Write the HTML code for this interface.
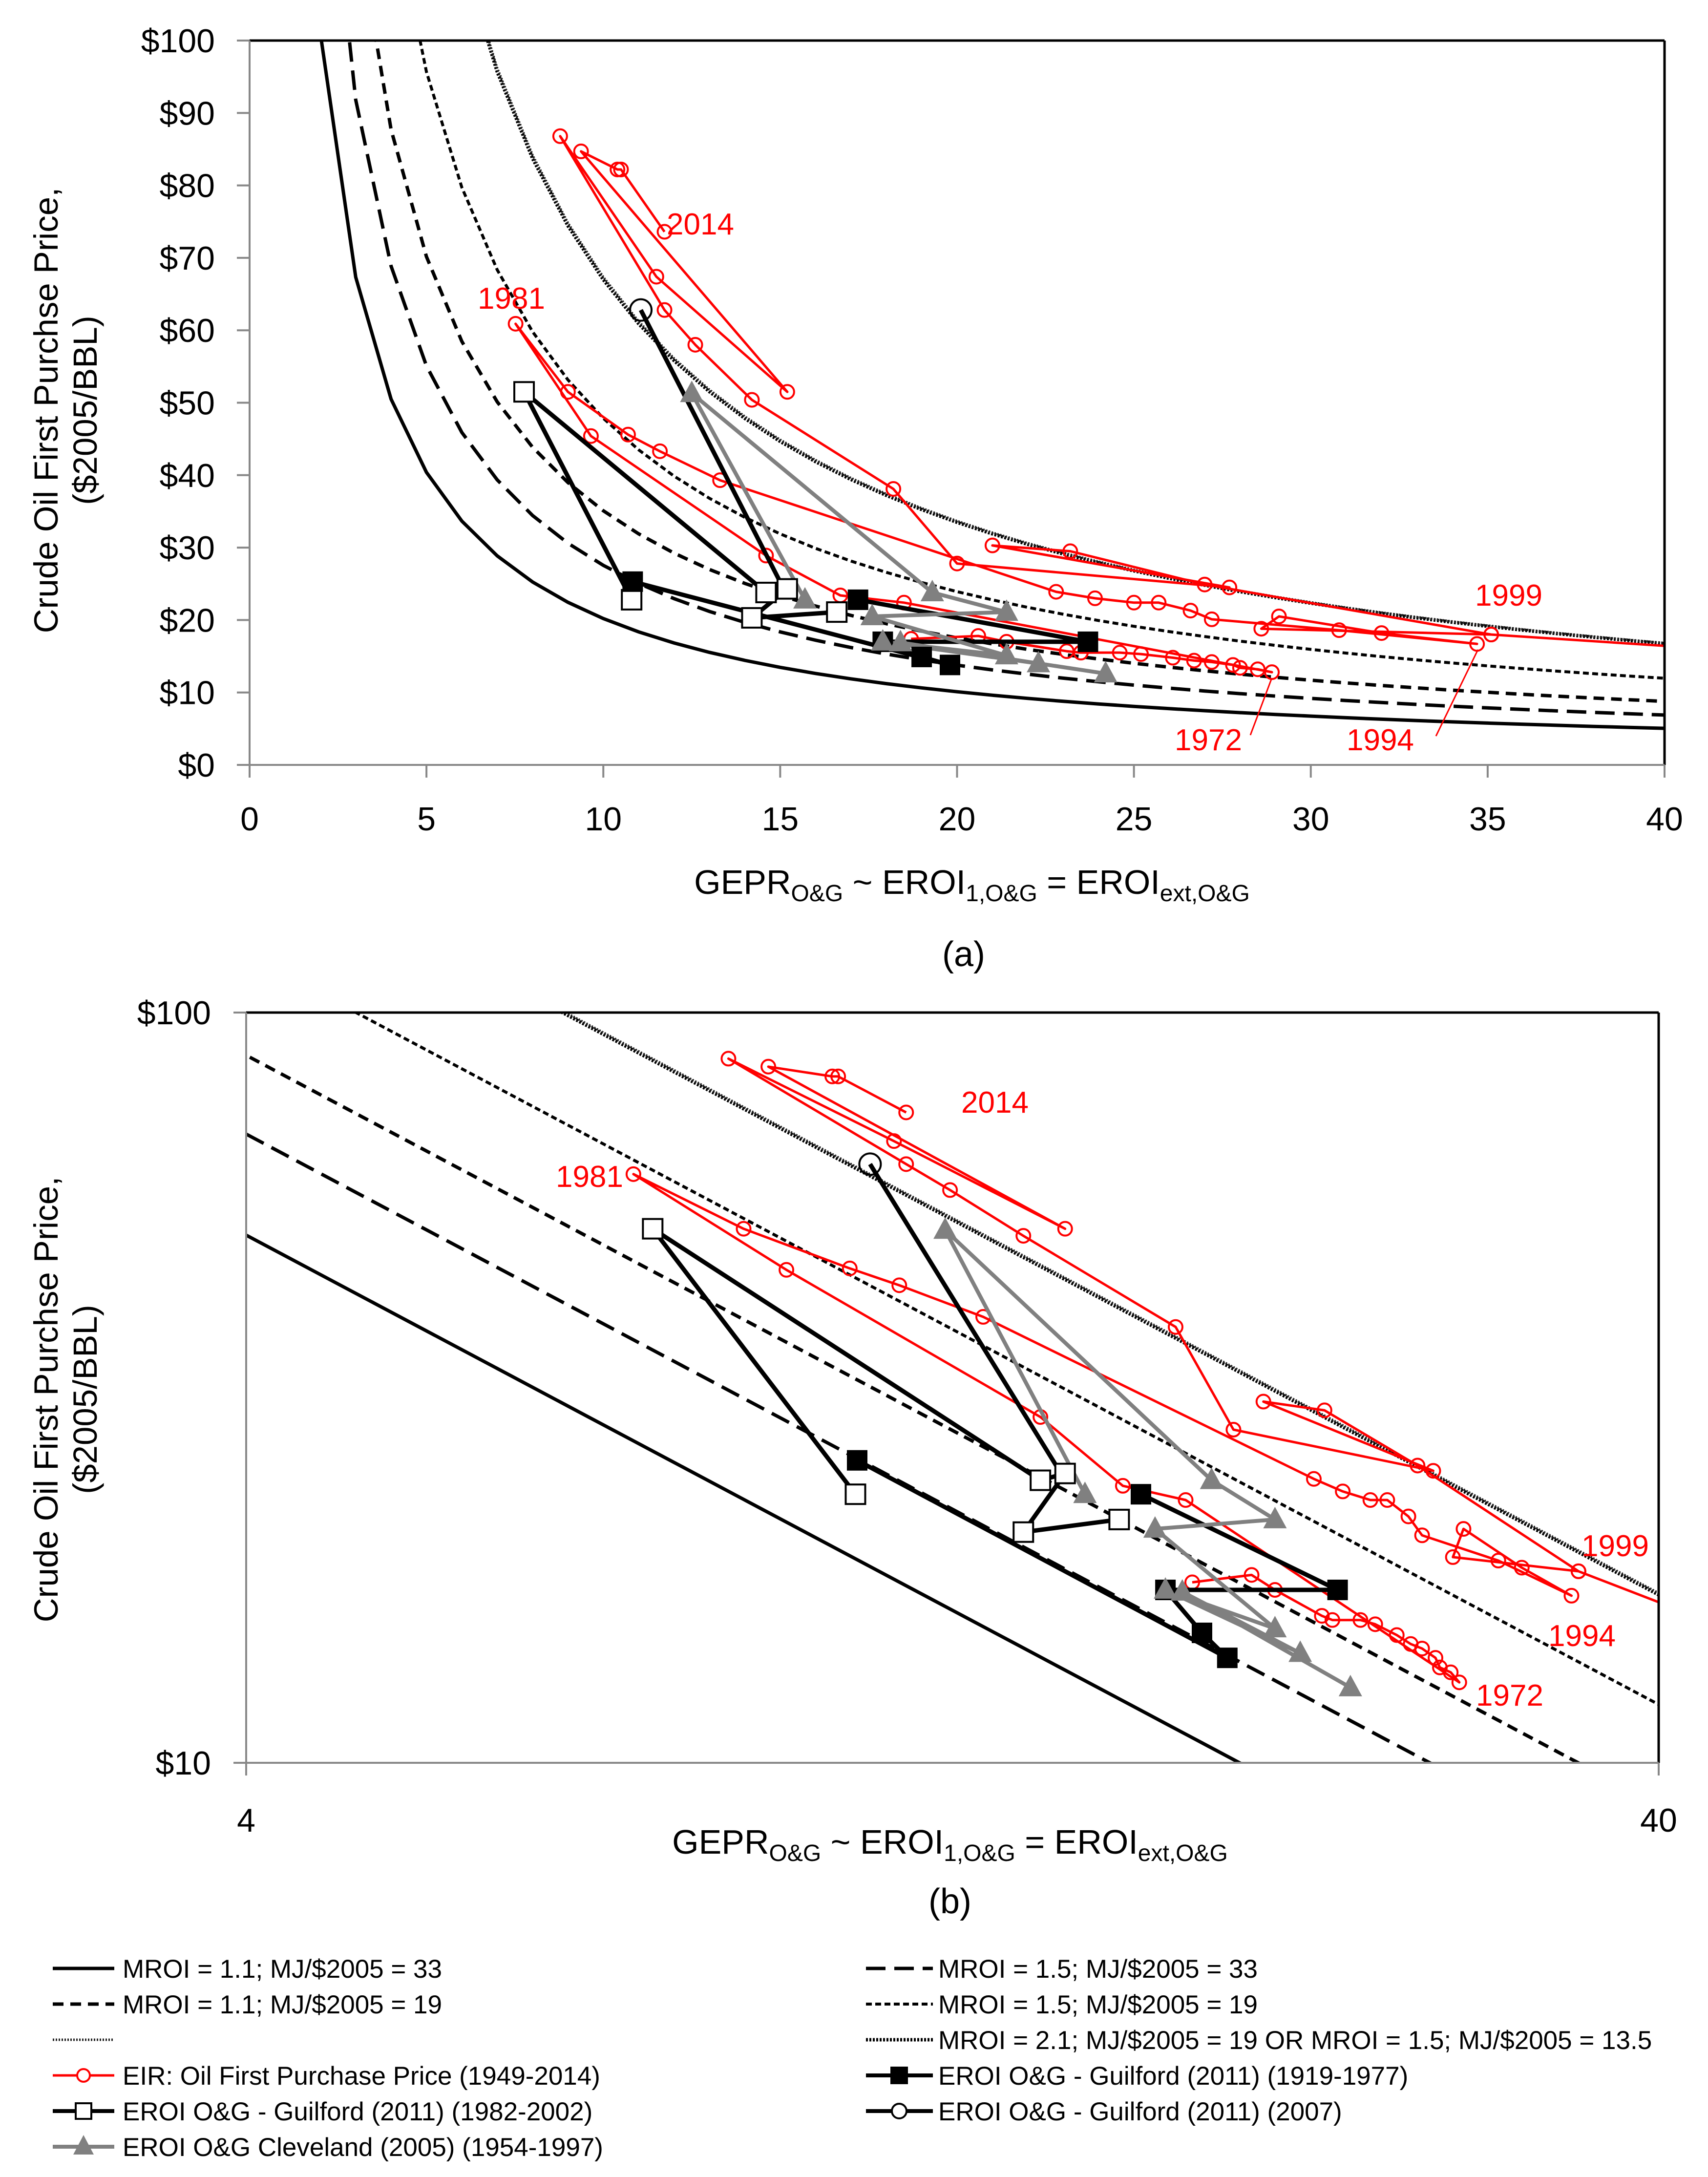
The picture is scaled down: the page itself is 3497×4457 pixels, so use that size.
<!DOCTYPE html>
<html><head><meta charset="utf-8"><style>
html,body{margin:0;padding:0;background:#fff}
svg{display:block;font-family:"Liberation Sans",sans-serif}
</style></head><body>
<svg id="chart" width="3497" height="4457" viewBox="0 0 3497 4457" xmlns="http://www.w3.org/2000/svg">
<defs>
<clipPath id="clipA"><rect x="511" y="83" width="2897" height="1483"/></clipPath>
<clipPath id="clipB"><rect x="504" y="2073" width="2892" height="1536"/></clipPath>
</defs>
<g id="gA"></g>
<g id="gB"></g>
<g id="legend"></g>
</svg>
<script>
// ---- data ----
const curveMROI = [1.1, 1.1, 1.5, 1.5, 2.1, 1.5];
const curveMJ = [33, 19, 33, 19, 19, 13.5];
const curveLabels = ["MROI = 1.1; MJ/$2005 = 33","MROI = 1.1; MJ/$2005 = 19","MROI = 1.5; MJ/$2005 = 33","MROI = 1.5; MJ/$2005 = 19","MROI = 2.1; MJ/$2005 = 19 OR MROI = 1.5; MJ/$2005 = 13.5",""];
const eiaX = [18.7,20.6,21.4,23.1,23.5,24.6,25.2,26.1,26.7,27.2,27.8,28.0,28.5,28.9,18.5,16.7,14.6,9.65,7.52,9.0,10.7,11.6,13.3,22.8,23.9,25.0,25.7,26.6,27.2,30.8,34.7,32.0,29.1,28.6,35.1,42,35.1,27.0,23.2,21.0,27.7,20.0,18.2,14.2,12.6,11.73,8.78,11.5,15.2,9.37,10.4,10.5,11.73];
const eiaY = [17.4,17.8,17.0,15.7,15.5,15.5,15.3,14.8,14.4,14.2,13.8,13.4,13.2,12.8,22.4,23.4,28.9,45.4,60.9,51.5,45.6,43.3,39.3,23.9,23.0,22.4,22.4,21.3,20.1,18.6,16.7,18.2,20.5,18.8,18.0,15.8,18.0,24.9,29.5,30.3,24.5,27.8,38.1,50.4,58.0,62.8,86.8,67.4,51.5,84.7,82.2,82.2,73.6];
const eiaMarker = eiaX.map((v,i)=>i!==35);
const gFilledX = [10.83,19.8,19.0,17.9,23.7,17.2];
const gFilledY = [25.3,13.8,14.9,17.0,17.0,22.8];
const gOpenX = [10.8,7.76,14.6,15.2,14.2,16.6];
const gOpenY = [22.8,51.5,23.8,24.3,20.3,21.1];
const g2007X = [11.06,15.1];
const g2007Y = [62.8,24.3];
const clevX = [24.2,18.4,22.3,17.9,21.4,17.6,21.4,19.3,12.5,15.7];
const clevY = [12.6,16.9,14.0,17.0,15.1,20.5,21.1,23.8,51.3,22.8];
const ticksA_Y = [0,10,20,30,40,50,60,70,80,90,100];
const ticksA_X = [0,5,10,15,20,25,30,35,40];
const ticksB_Y = [10,100];
const ticksB_X = [4,40];

const NS="http://www.w3.org/2000/svg";
function mk(parent,tag,attrs){const e=document.createElementNS(NS,tag);for(const k in attrs)e.setAttribute(k,attrs[k]);parent.appendChild(e);return e;}

const styles=[
 {w:7,dash:"",c:"#000"},
 {w:7,dash:"22 14",c:"#000"},
 {w:7,dash:"40 18",c:"#000"},
 {w:6,dash:"12 7",c:"#000"},
 {w:7,dash:"4 3",c:"#000"},
 {w:5,dash:"3 3",c:"#222"}
];

function drawPanel(g,xs,ys,clip,xmin,xmax,ymin,ymax,log){
 const [L,R]=xs,[B,T]=ys;
 const sx=log?v=>L+Math.log10(v/xmin)/Math.log10(xmax/xmin)*(R-L):v=>L+(v-xmin)/(xmax-xmin)*(R-L);
 const sy=log?v=>B-Math.log10(v/ymin)/Math.log10(ymax/ymin)*(B-T):v=>B-(v-ymin)/(ymax-ymin)*(B-T);
 const plot=mk(g,"g",{"clip-path":"url(#"+clip+")"});
 
 
 curveMROI.forEach((m,i)=>{
  const k=6060*m/curveMJ[i];
  let pts=[];
  for(let x=1;x<=42;x++){pts.push(sx(x).toFixed(1)+","+sy(k/x).toFixed(1));}
  const p=mk(plot,"polyline",{points:pts.join(" "),fill:"none",stroke:styles[i].c,"stroke-width":styles[i].w,"stroke-dasharray":styles[i].dash});
  
  
 });
 function series(X,Y,color,w,name){
  const pts=X.map((x,i)=>sx(x).toFixed(1)+","+sy(Y[i]).toFixed(1)).join(" ");
  const p=mk(plot,"polyline",{points:pts,fill:"none",stroke:color,"stroke-width":w,"stroke-linejoin":"round"});
  
  
 }
 series(eiaX,eiaY,"#ff0000",5,"eia-price-line");
 eiaX.forEach((x,i)=>{ if(!eiaMarker[i])return;
  const c=mk(plot,"circle",{cx:sx(x),cy:sy(eiaY[i]),r:14,fill:"none",stroke:"#ff0000","stroke-width":4});
  
  
 });
 series(gOpenX,gOpenY,"#000",9,"guilford-1982-2002-line");
 series(g2007X,g2007Y,"#000",9,"guilford-2007-line");
 series(gFilledX,gFilledY,"#000",9,"guilford-1919-1977-line");
 series(clevX,clevY,"#808080",8,"cleveland-line");
 gOpenX.forEach((x,i)=>{
  const r=mk(plot,"rect",{x:sx(x)-20,y:sy(gOpenY[i])-20,width:40,height:40,fill:"#fff",stroke:"#000","stroke-width":4});
  
  
 });
 gFilledX.forEach((x,i)=>{
  const r=mk(plot,"rect",{x:sx(x)-21,y:sy(gFilledY[i])-21,width:42,height:42,fill:"#000"});
  
  
 });
 const c7=mk(plot,"circle",{cx:sx(g2007X[0]),cy:sy(g2007Y[0]),r:22,fill:"none",stroke:"#000","stroke-width":4});
 
 
 clevX.forEach((x,i)=>{
  const cx=sx(x),cy=sy(clevY[i]);
  const t=mk(plot,"polygon",{points:`${cx},${cy-26} ${cx-24},${cy+18} ${cx+24},${cy+18}`,fill:"#808080"});
  
  
 });
 mk(g,"line",{x1:L,y1:T,x2:R,y2:T,stroke:"#000","stroke-width":5});
 mk(g,"line",{x1:R,y1:T,x2:R,y2:B,stroke:"#000","stroke-width":5});
 mk(g,"line",{x1:L,y1:T,x2:L,y2:B,stroke:"#888","stroke-width":4});
 mk(g,"line",{x1:L,y1:B,x2:R,y2:B,stroke:"#888","stroke-width":4});
 return {sx,sy};
}

function text(parent,x,y,str,size,anchor,fill,name){
 const t=mk(parent,"text",{x:x,y:y,"font-size":size,"text-anchor":anchor,fill:fill||"#000"});
 t.textContent=str;
 
 
 return t;
}

// Panel A
const gA=document.getElementById("gA");
const A=drawPanel(gA,[511,3408],[1566,83],"clipA",0,40,0,100,false);
ticksA_Y.forEach(v=>{const y=A.sy(v);mk(gA,"line",{x1:485,y1:y,x2:511,y2:y,stroke:"#888","stroke-width":4});text(gA,440,y+24,"$"+v,68,"end","#000","y-tick-label");});
ticksA_X.forEach(v=>{const x=A.sx(v);mk(gA,"line",{x1:x,y1:1566,x2:x,y2:1592,stroke:"#888","stroke-width":4});text(gA,x,1700,String(v),68,"middle","#000","x-tick-label");});
function xTitle(parent,cx,y,name){
 const t=mk(parent,"text",{x:cx,y:y,"font-size":70,"text-anchor":"middle"});
 t.innerHTML='GEPR<tspan font-size="48" dy="15">O&amp;G</tspan><tspan dy="-15"> ~ EROI</tspan><tspan font-size="48" dy="15">1,O&amp;G</tspan><tspan dy="-15"> = EROI</tspan><tspan font-size="48" dy="15">ext,O&amp;G</tspan>';
 
 
}
xTitle(gA,1990,1830,"x-axis-title");
text(gA,1973,1978,"(a)",72,"middle","#000","panel-a-caption");
function yTitle(parent,cy,name){
 const t=mk(parent,"text",{transform:`translate(118,${cy}) rotate(-90)`,"font-size":69,"text-anchor":"middle"});
 t.innerHTML=`<tspan x="0" y="0">Crude Oil First Purchse Price,</tspan><tspan x="0" y="80">($2005/BBL)</tspan>`;
 
 
}
yTitle(gA,840,"y-axis-title");
text(gA,1365,480,"2014",62,"start","#ff0000","label-2014");
text(gA,978,632,"1981",62,"start","#ff0000","label-1981");
text(gA,3020,1240,"1999",62,"start","#ff0000","label-1999");
text(gA,2405,1536,"1972",62,"start","#ff0000","label-1972");
text(gA,2757,1536,"1994",62,"start","#ff0000","label-1994");
mk(gA,"line",{x1:2560,y1:1505,x2:2604,y2:1388,stroke:"#ff0000","stroke-width":3});
mk(gA,"line",{x1:2940,y1:1507,x2:3026,y2:1330,stroke:"#ff0000","stroke-width":3});

// Panel B
const gB=document.getElementById("gB");
const Bp=drawPanel(gB,[504,3396],[3609,2073],"clipB",4,40,10,100,true);
ticksB_Y.forEach(v=>{const y=Bp.sy(v);mk(gB,"line",{x1:478,y1:y,x2:504,y2:y,stroke:"#888","stroke-width":4});text(gB,432,y+24,"$"+v,68,"end","#000","y-tick-label");});
ticksB_X.forEach(v=>{const x=Bp.sx(v);mk(gB,"line",{x1:x,y1:3609,x2:x,y2:3635,stroke:"#888","stroke-width":4});text(gB,x,3750,String(v),68,"middle","#000","x-tick-label");});
xTitle(gB,1945,3795,"x-axis-title");
text(gB,1945,3917,"(b)",72,"middle","#000","panel-b-caption");
yTitle(gB,2865,"y-axis-title");
text(gB,1968,2278,"2014",62,"start","#ff0000","label-2014");
text(gB,1138,2430,"1981",62,"start","#ff0000","label-1981");
text(gB,3238,3186,"1999",62,"start","#ff0000","label-1999");
text(gB,3170,3370,"1994",62,"start","#ff0000","label-1994");
text(gB,3022,3492,"1972",62,"start","#ff0000","label-1972");

// Legend
const lg=document.getElementById("legend");
const rowsY=[4030,4103,4176,4249,4322,4395];
const LF=53;
function legLine(x1,x2,y,i){mk(lg,"line",{x1:x1,y1:y,x2:x2,y2:y,stroke:styles[i].c,"stroke-width":styles[i].w,"stroke-dasharray":styles[i].dash});}
legLine(108,234,rowsY[0],0); text(lg,251,rowsY[0]+19,curveLabels[0],LF,"start","#000","legend-entry");
legLine(108,234,rowsY[1],1); text(lg,251,rowsY[1]+19,curveLabels[1],LF,"start","#000","legend-entry");
legLine(108,234,rowsY[2],5);
legLine(1773,1910,rowsY[0],2); text(lg,1921,rowsY[0]+19,curveLabels[2],LF,"start","#000","legend-entry");
legLine(1773,1910,rowsY[1],3); text(lg,1921,rowsY[1]+19,curveLabels[3],LF,"start","#000","legend-entry");
legLine(1773,1910,rowsY[2],4); text(lg,1921,rowsY[2]+19,curveLabels[4],LF,"start","#000","legend-entry");
mk(lg,"line",{x1:108,y1:rowsY[3],x2:234,y2:rowsY[3],stroke:"#ff0000","stroke-width":5});
mk(lg,"circle",{cx:171,cy:rowsY[3],r:13,fill:"#fff",stroke:"#ff0000","stroke-width":4});
text(lg,251,rowsY[3]+19,"EIR: Oil First Purchase Price (1949-2014)",LF,"start","#000","legend-entry");
mk(lg,"line",{x1:108,y1:rowsY[4],x2:234,y2:rowsY[4],stroke:"#000","stroke-width":8});
mk(lg,"rect",{x:155,y:rowsY[4]-16,width:32,height:32,fill:"#fff",stroke:"#000","stroke-width":4});
text(lg,251,rowsY[4]+19,"EROI O&G - Guilford (2011) (1982-2002)",LF,"start","#000","legend-entry");
mk(lg,"line",{x1:108,y1:rowsY[5],x2:234,y2:rowsY[5],stroke:"#808080","stroke-width":8});
mk(lg,"polygon",{points:`171,${rowsY[5]-24} 150,${rowsY[5]+16} 192,${rowsY[5]+16}`,fill:"#808080"});
text(lg,251,rowsY[5]+19,"EROI O&G Cleveland (2005) (1954-1997)",LF,"start","#000","legend-entry");
mk(lg,"line",{x1:1773,y1:rowsY[3],x2:1910,y2:rowsY[3],stroke:"#000","stroke-width":8});
mk(lg,"rect",{x:1823,y:rowsY[3]-18,width:36,height:36,fill:"#000"});
text(lg,1921,rowsY[3]+19,"EROI O&G - Guilford (2011) (1919-1977)",LF,"start","#000","legend-entry");
mk(lg,"line",{x1:1773,y1:rowsY[4],x2:1910,y2:rowsY[4],stroke:"#000","stroke-width":8});
mk(lg,"circle",{cx:1841,cy:rowsY[4],r:15,fill:"#fff",stroke:"#000","stroke-width":4});
text(lg,1921,rowsY[4]+19,"EROI O&G - Guilford (2011) (2007)",LF,"start","#000","legend-entry");
</script>
</body></html>
